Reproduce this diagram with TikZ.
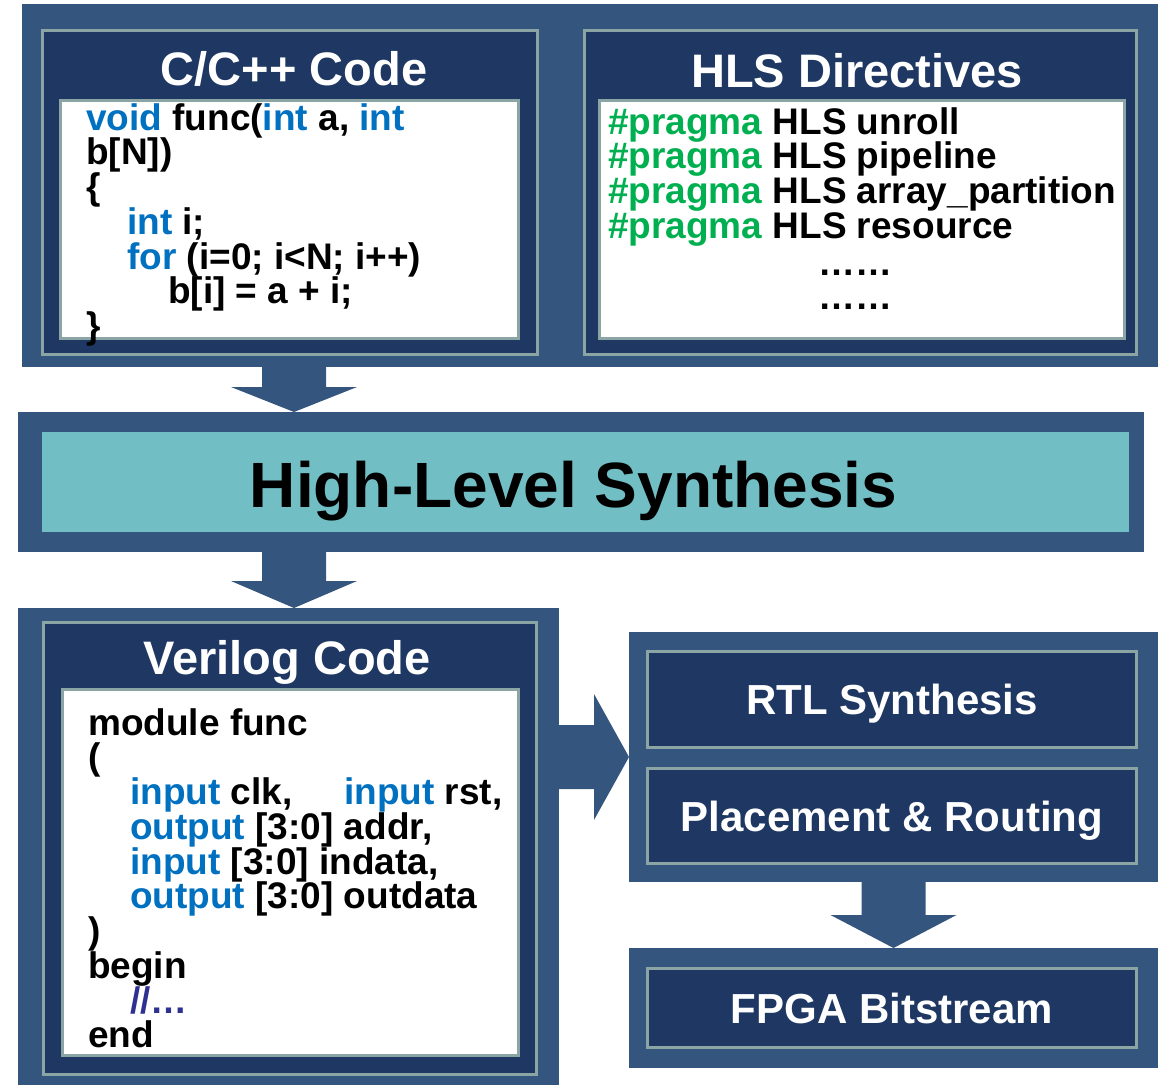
\documentclass[tikz,border=0pt]{standalone}
\usepackage{fontspec}
\setmainfont{Liberation Sans}
\usetikzlibrary{calc}

\definecolor{outerblue}{HTML}{34557D}
\definecolor{navy}{HTML}{1F3863}
\definecolor{edgegray}{HTML}{8BA4A4}
\definecolor{hlsteal}{HTML}{72BEC5}
\definecolor{kwblue}{HTML}{0070C0}
\definecolor{pgreen}{HTML}{00B050}
\definecolor{cmtblue}{HTML}{2E3192}

\newcommand\kw[1]{\textcolor{kwblue}{#1}}
\newcommand\pg[1]{\textcolor{pgreen}{#1}}
\newcommand\cmt[1]{\textcolor{cmtblue}{#1}}

% block arrow pointing down: start (top middle), tip, head length
\newcommand\downblock[3]{%
  \fill[blockarrow] let \p1=(#1), \p2=(#2) in
    (\x1-32pt,\y1) -- (\x1+32pt,\y1) -- (\x1+32pt,\y2+#3) -- (\x1+63pt,\y2+#3)
    -- (\x2,\y2) -- (\x1-63pt,\y2+#3) -- (\x1-32pt,\y2+#3) -- cycle;}
% block arrow pointing right: start (left middle), tip, head length
\newcommand\rightblock[3]{%
  \fill[blockarrow] let \p1=(#1), \p2=(#2) in
    (\x1,\y1+32pt) -- (\x2-#3,\y1+32pt) -- (\x2-#3,\y1+63pt) -- (\x2,\y2)
    -- (\x2-#3,\y1-63pt) -- (\x2-#3,\y1-32pt) -- (\x1,\y1-32pt) -- cycle;}

\tikzset{
  outerbox/.style={fill=outerblue, inner sep=0pt, outer sep=0pt},
  navybox/.style={fill=navy, draw=edgegray, line width=2.5pt, inner sep=0pt, outer sep=0pt},
  whitebox/.style={fill=white, draw=edgegray, line width=2.5pt, inner sep=0pt, outer sep=0pt},
  tealbox/.style={fill=hlsteal, inner sep=0pt, outer sep=0pt},
  title/.style={text=white, font=\bfseries\fontsize{47}{50}\selectfont, anchor=base, inner sep=0pt},
  steptext/.style={text=white, font=\bfseries\fontsize{42}{45}\selectfont, text height=30pt, text depth=0pt},
  code/.style={font=\bfseries\fontsize{37}{34.75}\selectfont,
               align=left, anchor=north west, inner sep=0pt},
  blockarrow/.style={fill=outerblue},
}

\begin{document}
\lineskiplimit=-100pt
\begin{tikzpicture}[x=1pt, y=-1pt]
\useasboundingbox (0,0) rectangle (1167,1085);

% ---- source stage: C code and directives
\node[outerbox, minimum width=1136pt, minimum height=363pt] (top) at (590,185.5) {};
\node[navybox, minimum width=495pt, minimum height=324pt] (cbox) at (290,192.5) {};
\node[whitebox, minimum width=458pt, minimum height=238pt] (cwhite) at (289.5,219.5) {};
\node[navybox, minimum width=552pt, minimum height=324pt] (hbox) at (860.5,192.5) {};
\node[whitebox, minimum width=525pt, minimum height=238pt] (hwhite) at (862,219.5) {};

\node[title] (ctitle) at (294,85) {C/C++ Code};
\node[title] (htitle) at (857,87) {HLS Directives};

\node[code] (ccode) at (86,100) {\rule{0pt}{30pt}\kw{void} func(\kw{int} a, \kw{int}\\
b[N])\\
\{\\
\hspace*{41pt}\kw{int} i;\\
\hspace*{41pt}\kw{for} (i=0; i<N; i++)\\
\hspace*{82pt}b[i] = a + i;\\
\}};

\node[code] (pcode) at (608,104) {\rule{0pt}{30pt}\pg{\#pragma} HLS unroll\\
\pg{\#pragma} HLS pipeline\\
\pg{\#pragma} HLS array\_partition\\
\pg{\#pragma} HLS resource};
\node[code, anchor=north, align=center] (dots) at (855,245) {\rule{0pt}{30pt}……\\……};

% ---- high-level synthesis band
\node[outerbox, minimum width=1126pt, minimum height=140pt] (hls) at (581,482) {};
\node[tealbox, minimum width=1087pt, minimum height=100pt] (teal) at (585.5,482) {};
\node[font=\bfseries\fontsize{64}{70}\selectfont, anchor=base, inner sep=0pt] (hlstext) at (573.5,507) {High-Level Synthesis};

% ---- generated Verilog
\node[outerbox, minimum width=541pt, minimum height=477pt] (ver) at (288.5,846.5) {};
\node[navybox, minimum width=493pt, minimum height=452pt] (vbox) at (290,848.5) {};
\node[whitebox, minimum width=456pt, minimum height=366pt] (vwhite) at (290.5,872.5) {};
\node[title] (vtitle) at (287,674) {Verilog Code};

\node[code] (vcode) at (88,705) {\rule{0pt}{30pt}module func\\
(\\
\hspace*{42pt}\makebox[214pt][l]{\kw{input} clk,}\kw{input} rst,\\
\hspace*{42pt}\kw{output} [3:0] addr,\\
\hspace*{42pt}\kw{input} [3:0] indata,\\
\hspace*{42pt}\kw{output} [3:0] outdata\\
)\\
begin\\
\hspace*{42pt}\cmt{//…}\\
end};

% ---- implementation flow
\node[outerbox, minimum width=529pt, minimum height=250pt] (stack) at (893.5,757) {};
\node[navybox, steptext, minimum width=489pt, minimum height=96pt] (rtl) at (892,699.5) {RTL Synthesis};
\node[navybox, steptext, minimum width=489pt, minimum height=95pt] (pnr) at (892,816) {Placement \& Routing};

\node[outerbox, minimum width=529pt, minimum height=120pt] (fpga) at (893.5,1008) {};
\node[navybox, steptext, minimum width=489pt, minimum height=79pt] (bits) at (892,1008) {FPGA Bitstream};

% ---- block arrows between stages
\downblock{ctitle.south |- top.south}{ctitle.south |- hls.north}{25pt}
\downblock{ctitle.south |- hls.south}{ctitle.south |- ver.north}{27pt}
\rightblock{ver.east |- stack.west}{stack.west}{35pt}
\downblock{stack.south}{fpga.north}{33pt}
\end{tikzpicture}
\end{document}
